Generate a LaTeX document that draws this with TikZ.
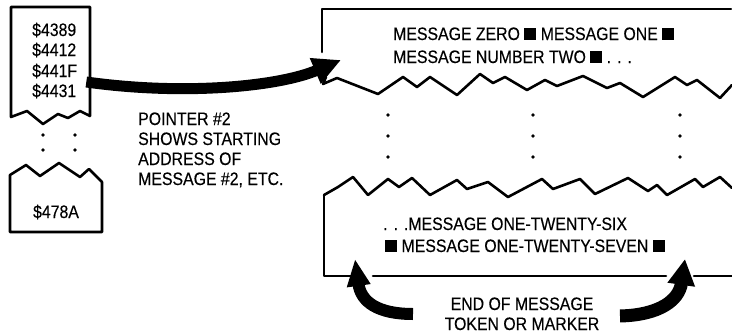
\documentclass[tikz,border=0pt]{standalone}
\usepackage{fontspec}
\setmainfont[FakeStretch=0.88,FakeBold=0.3]{Liberation Sans}
\usetikzlibrary{arrows.meta}
% end-of-message token
\newcommand{\eomtok}{\rule{12pt}{12pt}}
\begin{document}
\begin{tikzpicture}[x=1pt,y=-1pt,
  edge/.style={line width=2.6pt,line join=round,line cap=round},
  txt/.style={font=\fontsize{18}{20}\selectfont,inner sep=0pt,anchor=base west},
  ctxt/.style={txt,anchor=base},
  dotmark/.style={circle,fill,inner sep=0pt,minimum size=3.6pt},
  fat/.style={line width=#1,line cap=butt}]
\useasboundingbox (0,0) rectangle (732,335);

% ---- pointer table: first torn block
\draw[edge] (90,116) -- (90,7) -- (11,7) -- (11,117) -- (27,111) -- (43,124)
  -- (58,114) -- (68,118) -- (80,111) -- (90,116);
\node[txt] (p1) at (32,36) {\$4389};
\node[txt] (p2) at (32,56) {\$4412};
\node[txt] (p3) at (32,77) {\$441F};
\node[txt] (p4) at (32,97) {\$4431};

% gap in the table
\node[dotmark] (d1) at (43,135) {};
\node[dotmark] (d2) at (75,135) {};
\node[dotmark] (d3) at (43,150) {};
\node[dotmark] (d4) at (75,150) {};

% ---- pointer table: last torn block
\draw[edge] (10,175) -- (26,165) -- (40,176) -- (59,163) -- (80,177) -- (89,169)
  -- (102,182) -- (102,232) -- (10,232) -- cycle;
\node[txt,anchor=base] (p5) at (56,218) {\$478A};

% ---- note
\node[txt] (n1) at (138,125) {POINTER \#2};
\node[txt] (n2) at (138,145) {SHOWS STARTING};
\node[txt] (n3) at (138,165) {ADDRESS OF};
\node[txt] (n4) at (138,185) {MESSAGE \#2, ETC.};

% ---- message area: top torn piece
\draw[edge] (322,52) -- (322,9) -- (731,9);
\draw[edge] (326,77) -- (323,84) -- (337,78) -- (378,94) -- (403,77) -- (417,87)
  -- (430,77) -- (457,95) -- (480,74) -- (493,83) -- (505,77) -- (527,90)
  -- (545,80) -- (557,86) -- (583,76) -- (607,88) -- (620,83) -- (643,97)
  -- (675,77) -- (687,85) -- (697,80) -- (720,98) -- (732,85);
\node[txt] (m1) at (393,40) {MESSAGE ZERO \eomtok{} MESSAGE ONE \eomtok};
\node[txt] (m2) at (393,63) {MESSAGE NUMBER TWO \eomtok{} .\,\,.\,\,.};

% gap in the message area
\foreach \x/\n in {388/a,533/b,680/c}{
  \node[dotmark] (g\n1) at (\x,115) {};
  \node[dotmark] (g\n2) at (\x,136) {};
  \node[dotmark] (g\n3) at (\x,157) {};
}

% ---- message area: bottom torn piece
\draw[edge] (324,195) -- (338,187) -- (353,177) -- (368,195) -- (388,179)
  -- (399,187) -- (412,178) -- (430,195) -- (457,180) -- (467,189) -- (488,182)
  -- (508,197) -- (542,179) -- (553,189) -- (580,179) -- (595,194) -- (628,178)
  -- (648,191) -- (657,185) -- (667,195) -- (695,179) -- (703,187) -- (720,177)
  -- (732,188);
\draw[edge] (324,195) -- (324,276) -- (351,276);
\draw[edge] (373,276) -- (666,276);
\draw[edge] (694,276) -- (732,276);
\node[txt] (m3) at (383,230) {.\,\,.\,\,.MESSAGE ONE-TWENTY-SIX};
\node[txt] (m4) at (385,252) {\eomtok{} MESSAGE ONE-TWENTY-SEVEN \eomtok};

% ---- label for the end markers
\node[ctxt] (e1) at (522,310) {END OF MESSAGE};
\node[ctxt] (e2) at (522,330) {TOKEN OR MARKER};

% ---- arrows
\coordinate (tipA) at (341,60);
\coordinate (tipB) at (355,259);
\coordinate (tipC) at (685,259);
\coordinate (tailB) at (413,314);
\coordinate (tailC) at (620,316);

\draw[fat=11pt,-{Triangle[length=28pt,width=26pt]}]
  ([xshift=9pt,yshift=-5pt]p3.base east) .. controls +(100,14) and (280,86) .. (tipA);
\draw[fat=12pt,-{Triangle[length=27pt,width=22pt]}]
  (tailB) .. controls (378,314) and (361,302) .. (tipB);
\draw[fat=13pt,-{Triangle[length=26pt,width=26pt]}]
  (tailC) .. controls (660,315) and (679,300) .. (tipC);
\end{tikzpicture}
\end{document}
